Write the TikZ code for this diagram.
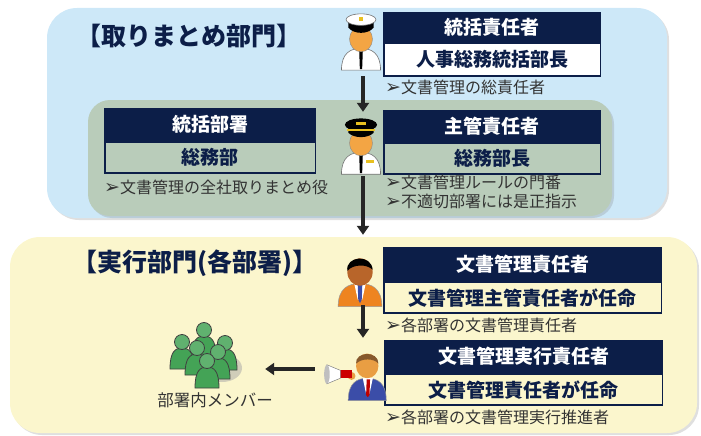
\documentclass[tikz,border=0pt]{standalone}
\usepackage{fontspec}
\newfontfamily\jp{Noto Sans CJK JP}
\newfontfamily\sym{DejaVu Sans}
\usetikzlibrary{arrows.meta,shadows}

\definecolor{navy}{HTML}{0C1E48}
\definecolor{skypanel}{HTML}{CDE8F8}
\definecolor{sagepanel}{HTML}{B9CCBA}
\definecolor{creampanel}{HTML}{FBF6CD}
\definecolor{skin}{HTML}{F3A544}
\definecolor{skindark}{HTML}{B8652A}
\definecolor{suitorange}{HTML}{EE8420}
\definecolor{suitblue}{HTML}{3B4DA8}
\definecolor{memgreen}{HTML}{44A356}
\definecolor{gold}{HTML}{E8C020}
\definecolor{bullettext}{HTML}{333333}

\newcommand{\arrowbullet}{{\sym\fontsize{19}{16}\selectfont ➢}}

\tikzset{
  panel/.style={rounded corners=30pt},
  headband/.style={fill=navy, text=white, font=\jp\bfseries\fontsize{19}{19}\selectfont,
    inner sep=0pt, anchor=north west},
  subband/.style={draw=navy, line width=1.5pt, text=navy,
    font=\jp\bfseries\fontsize{19}{19}\selectfont, inner sep=0pt, anchor=north},
  secttitle/.style={text=navy, font=\jp\bfseries\fontsize{25}{25}\selectfont, anchor=west, inner sep=0pt},
  bulletline/.style={text=bullettext, font=\jp\fontsize{16}{16}\selectfont, anchor=west, inner sep=0pt},
  iconbox/.style={inner sep=0pt},
  flow/.style={line width=3.5pt, black!85, -{Triangle[width=12pt,length=9pt]}},
  % officer with white peaked cap
  pics/captain/.style={code={
    \fill[white, draw=black!55, line width=0.6pt]
      (-17,28) .. controls (-17,13) and (-9,9) .. (0,9) .. controls (9,9) and (17,13) .. (17,28) -- cycle;
    \fill[black] (-1.6,10) -- (1.6,10) -- (1,27) -- (-1,27) -- cycle;
    \fill[skin, draw=black!45, line width=0.4pt] (0,1) ellipse (10 and 11);
    \fill[black] (-11,-9) .. controls (-6,-3) and (6,-3) .. (11,-9) -- (11,-13) -- (-11,-13) -- cycle;
    \fill[white, draw=black!55, line width=0.6pt] (0,-16) ellipse (13 and 5);
    \fill[gold] (-1.5,-18) rectangle (1.5,-15);
  }},
  % officer with black cap and gold trim
  pics/commander/.style={code={
    \fill[white, draw=black!55, line width=0.6pt]
      (-17,28) .. controls (-17,13) and (-9,9) .. (0,9) .. controls (9,9) and (17,13) .. (17,28) -- cycle;
    \fill[black] (-1.6,10) -- (1.6,10) -- (1,27) -- (-1,27) -- cycle;
    \fill[gold] (4,16) rectangle (11,18);
    \fill[skin, draw=black!45, line width=0.4pt] (0,1) ellipse (10 and 11);
    \fill[black] (-11,-8) .. controls (-6,-3) and (6,-3) .. (11,-8) -- (11,-12) -- (-11,-12) -- cycle;
    \fill[black] (0,-15) ellipse (14 and 5.5);
    \fill[gold] (-12,-11) rectangle (12,-9.5);
    \fill[gold] (-4,-17) rectangle (4,-15);
  }},
  % manager in orange jacket
  pics/manager/.style={code={
    \fill[suitorange, draw=black!40, line width=0.5pt]
      (-19,30) .. controls (-19,14) and (-10,10) .. (0,10) .. controls (10,10) and (19,14) .. (19,30) -- cycle;
    \fill[white] (-5,10) -- (5,10) -- (2,24) -- (-2,24) -- cycle;
    \fill[suitblue] (-2,11) -- (2,11) -- (1.5,24) -- (0,27) -- (-1.5,24) -- cycle;
    \fill[skindark] (0,0) ellipse (11 and 12);
    \fill[black] (-11,-1) .. controls (-13,-14) and (10,-16) .. (11,-2)
      .. controls (6,-7) and (-6,-7) .. (-11,-1) -- cycle;
  }},
  % staff member with a megaphone
  pics/announcer/.style={code={
    \fill[suitblue, draw=black!40, line width=0.5pt]
      (-15,30) .. controls (-15,14) and (-7,10) .. (2,10) .. controls (11,10) and (19,14) .. (19,30) -- cycle;
    \fill[white] (-2,10) -- (7,10) -- (4,24) -- (1,24) -- cycle;
    \fill[red!75!black] (1.5,11) -- (4.5,11) -- (4,25) -- (2.5,27) -- (1,25) -- cycle;
    \fill[skin!80!brown] (2,-1) ellipse (10 and 11);
    \fill[brown!70!black] (-8,-3) .. controls (-9,-14) and (12,-15) .. (12,-3)
      .. controls (8,-8) and (-3,-8) .. (-8,-3) -- cycle;
    \fill[skin!80!brown] (-12,8) circle (3.5);
    \fill[red!80!black] (-22,3) rectangle (-12,10);
    \fill[white, draw=black!50, line width=0.5pt] (-22,3) -- (-34,-2) -- (-34,15) -- (-22,10) -- cycle;
    \fill[black!25] (-34,6.5) ellipse (2.5 and 8.5);
  }},
  % one member figure, origin at the centre of the head
  pics/member/.style={code={
    \fill[memgreen, draw=black!75, line width=0.8pt]
      (-12,27) .. controls (-12,10) and (-7,6) .. (0,6) .. controls (7,6) and (12,10) .. (12,27) -- cycle;
    \fill[memgreen!85!white, draw=black!75, line width=0.8pt] (0,0) circle (7.5);
  }}
}

\begin{document}
\begin{tikzpicture}[x=1pt,y=-1pt]
\useasboundingbox (0,0) rectangle (701,436);

% department panels
\fill[skypanel, panel, drop shadow={shadow xshift=2pt, shadow yshift=-2pt, opacity=0.25}]
  (47,8) rectangle (667,218);
\fill[sagepanel, rounded corners=22pt, drop shadow={shadow xshift=2pt, shadow yshift=-2pt, opacity=0.25}]
  (88,100) rectangle (612,216);
\fill[creampanel, panel, drop shadow={shadow xshift=2pt, shadow yshift=-2pt, opacity=0.25}]
  (10,237) rectangle (697,433);

% section headings
\node[secttitle] (hq) at (76,36) {【取りまとめ部門】};
\node[secttitle] (exec) at (72,263) {【実行部門(各部署)】};

% role boxes, coordinating side
\node[headband, minimum width=218pt, minimum height=30pt] (t1) at (383,12) {統括責任者};
\node[subband, fill=white, minimum width=216.5pt, minimum height=33pt] (s1) at (t1.south) {人事総務統括部長};
\node[bulletline] (b1) at (385,87) {\arrowbullet 文書管理の総責任者};

\node[headband, minimum width=212pt, minimum height=33pt] (t2) at (104,108) {統括部署};
\node[subband, minimum width=210.5pt, minimum height=31pt] (s2) at (t2.south) {総務部};
\node[bulletline] (b2) at (104,187) {\arrowbullet 文書管理の全社取りまとめ役};

\node[headband, minimum width=218pt, minimum height=32pt] (t3) at (383,110) {主管責任者};
\node[subband, minimum width=216.5pt, minimum height=31pt] (s3) at (t3.south) {総務部長};
\node[bulletline] (b3) at (385,182) {\arrowbullet 文書管理ルールの門番};
\node[bulletline] (b4) at (385,201) {\arrowbullet 不適切部署には是正指示};

% role boxes, departments
\node[headband, minimum width=279pt, minimum height=34pt] (t4) at (383,247) {文書管理責任者};
\node[subband, minimum width=277.5pt, minimum height=31pt] (s4) at (t4.south) {文書管理主管責任者が任命};
\node[bulletline] (b5) at (385,325) {\arrowbullet 各部署の文書管理責任者};

\node[headband, minimum width=279pt, minimum height=33pt] (t5) at (384,340) {文書管理実行責任者};
\node[subband, minimum width=277.5pt, minimum height=31pt] (s5) at (t5.south) {文書管理責任者が任命};
\node[bulletline] (b6) at (385,417) {\arrowbullet 各部署の文書管理実行推進者};

% people
\node[iconbox, minimum width=40pt, minimum height=64pt] (cap1) at (363,44) {};
\pic[scale=1.15] at (361,38) {captain};
\node[iconbox, minimum width=40pt, minimum height=64pt] (cap2) at (363,144) {};
\pic[scale=1.15] at (361,142) {commander};
\node[iconbox, minimum width=40pt, minimum height=70pt] (mgr) at (363,270) {};
\pic[scale=1.15] at (360,272) {manager};
\node[iconbox, minimum width=96pt, minimum height=62pt] (ann) at (363,369) {};
\pic[scale=1.12] at (365,367) {announcer};

% members group
\node[iconbox, minimum width=110pt, minimum height=60pt] (grp) at (210,350) {};
\fill[black!35, opacity=0.5] (222,368) ellipse (20 and 14);
\pic at (204,330) {member};
\pic at (225,343) {member};
\pic at (182,342) {member};
\pic at (197,348) {member};
\pic at (218,352) {member};
\pic at (207,361) {member};
\node[text=bullettext, font=\jp\fontsize{16.5}{16.5}\selectfont, inner sep=0pt] (mem) at (215,400) {部署内メンバー};

% reporting lines
\draw[flow] (cap1.south) -- (cap2.north);
\draw[flow] (cap2.south) -- (mgr.north);
\draw[flow] (mgr.south) -- (ann.north);
\draw[flow] (ann.west) -- (grp.east |- ann.west);
\end{tikzpicture}
\end{document}
